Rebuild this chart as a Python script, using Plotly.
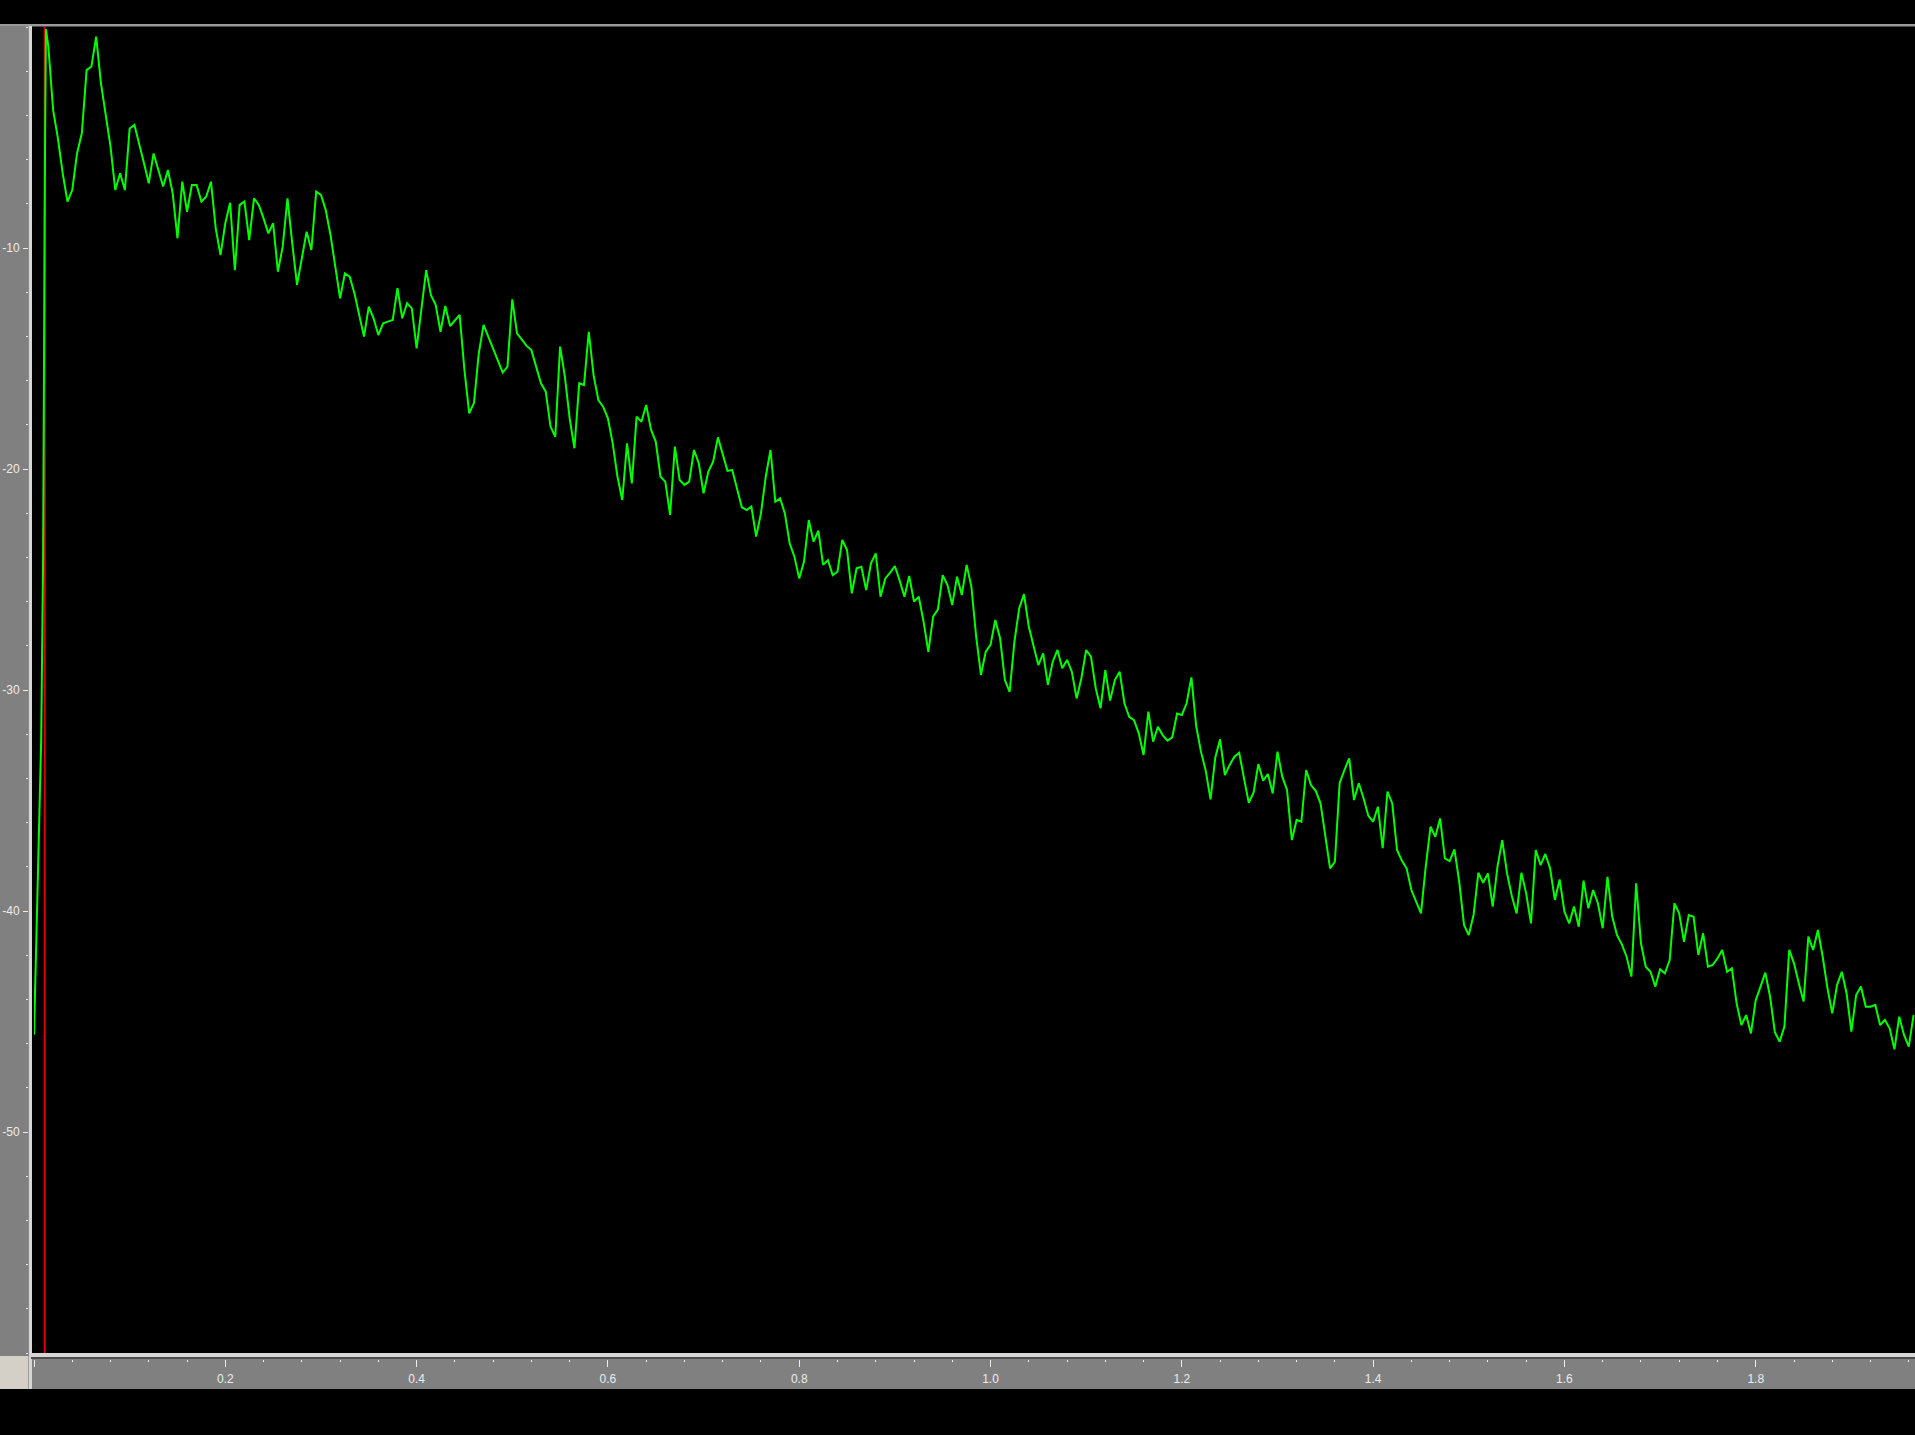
import plotly.graph_objects as go

# ---------------------------------------------------------------
# Spectrum trace: level (dB) against frequency
# ---------------------------------------------------------------
# steep onset at the very start of the sweep
rise_freq = [0.0, 0.0025, 0.005, 0.0075, 0.0095, 0.0105, 0.0115, 0.0125]
rise_db = [-45.6, -40.9, -36.8, -32.3, -24.1, -12.4, -5.6, -0.1]

# remaining bins are evenly spaced
bin_start = 0.015
bin_step = 0.005

band1_db = [
    -0.89, -3.76, -5.04, -6.62, -7.90, -7.38, -5.72, -4.81, -1.95, -1.79,
    -0.44, -2.55, -3.91, -5.41, -7.38, -6.62, -7.38, -4.59, -4.43, -5.26,
    -6.17, -7.07, -5.72, -6.47, -7.22, -6.47, -7.53, -9.56, -7.00, -8.36,
    -7.15, -7.15, -7.90, -7.68, -7.00, -9.11, -10.32, -8.88, -7.95, -11.00,
    -8.05, -7.90, -9.64, -7.75, -8.05, -8.66, -9.34, -8.88, -11.07, -9.94,
    -7.75, -9.79, -11.67, -10.47, -9.26, -10.09, -7.45, -7.60, -8.28, -9.41,
    -10.84, -12.28, -11.15, -11.30, -12.05, -13.03, -14.01, -12.65, -13.18, -13.94,
    -13.41, -13.33, -13.26, -11.82, -13.18, -12.50, -12.73, -14.54,
]
band2_db = [
    -12.81, -11.00, -12.13, -12.58, -13.79, -12.62, -13.53, -13.26, -13.03, -15.52,
    -17.48, -17.00, -14.77, -13.48, -14.01, -14.62, -15.07, -15.64, -15.37, -12.32,
    -13.86, -14.13, -14.43, -14.62, -15.37, -16.12, -16.50, -18.08, -18.54, -14.46,
    -15.82, -17.71, -19.06, -16.12, -16.20, -13.79, -15.75, -16.88, -17.18, -17.71,
    -18.84, -20.35, -21.40, -18.84, -20.65, -17.63, -17.86, -17.10, -18.21, -18.76,
    -20.35, -20.57, -22.08, -18.99, -20.50, -20.72, -20.57, -19.14, -19.74, -21.10,
    -20.12, -19.67, -18.57, -19.29, -20.08, -20.05, -20.95, -21.73, -21.86, -21.70,
    -23.06, -22.01, -20.35, -19.14, -21.48, -21.33, -22.01, -23.36, -23.97,
]
band3_db = [
    -24.95, -24.19, -22.31, -23.29, -22.79, -24.34, -24.12, -24.80, -24.65, -23.21,
    -23.67, -25.63, -24.49, -24.42, -25.48, -24.27, -23.82, -25.78, -24.95, -24.69,
    -24.39, -25.05, -25.78, -24.84, -26.00, -25.78, -26.91, -28.27, -26.68, -26.35,
    -24.80, -25.25, -26.15, -24.87, -25.70, -24.34, -25.32, -27.59, -29.32, -28.27,
    -27.96, -26.83, -27.66, -29.55, -30.08, -27.81, -26.30, -25.66, -27.13, -28.01,
    -28.87, -28.34, -29.77, -28.72, -28.19, -29.02, -28.64, -29.17, -30.38, -29.47,
    -28.19, -28.49, -29.92, -30.83, -29.10, -30.48, -29.55, -29.17, -30.60, -31.21,
    -31.36, -31.96, -32.94, -30.98, -32.34, -31.66, -32.04, -32.29, -32.14, -31.06,
]
band4_db = [
    -31.13, -30.60, -29.43, -31.63, -32.79, -33.65, -34.95, -33.05, -32.23, -33.85,
    -33.39, -33.02, -32.84, -34.00, -35.10, -34.65, -33.35, -34.10, -33.80, -34.68,
    -32.79, -33.92, -34.52, -36.79, -35.88, -35.96, -33.62, -34.30, -34.56, -35.13,
    -36.71, -38.07, -37.77, -34.22, -33.62, -33.09, -34.98, -34.22, -34.90, -35.69,
    -35.96, -35.28, -37.16, -34.60, -35.13, -37.24, -37.72, -38.07, -39.05, -39.58,
    -40.11, -37.99, -36.18, -36.64, -35.81, -37.62, -37.74, -37.21, -38.67, -40.63,
    -41.09, -40.18, -38.27, -38.72, -38.30, -39.80, -37.99, -36.79, -38.30, -39.32,
    -40.11, -38.27, -39.20, -40.56, -37.24, -37.92, -37.42, -38.07, -39.50,
]
band5_db = [
    -38.57, -40.03, -40.56, -39.80, -40.71, -38.63, -39.88, -39.05, -39.65, -40.78,
    -38.45, -40.26, -41.09, -41.51, -42.07, -42.97, -38.75, -41.46, -42.52, -42.75,
    -43.42, -42.64, -42.82, -42.22, -39.65, -40.11, -41.39, -40.18, -40.26, -41.99,
    -41.01, -42.52, -42.44, -42.14, -41.76, -42.75, -42.59, -44.18, -45.16, -44.71,
    -45.54, -44.03, -43.42, -42.79, -43.88, -45.49, -45.91, -45.23, -41.76, -42.37,
    -43.27, -44.10, -41.16, -41.76, -40.86, -42.07, -43.50, -44.63, -43.35, -42.75,
    -43.73, -45.46, -43.80, -43.42, -44.33, -44.33, -44.25, -45.16, -44.93, -45.31,
    -46.26, -44.78, -45.61, -46.14, -44.71,
]

# red cursor position
cursor_freq = 0.0112

# axes
x_range = [0.0, 1.9665]
y_range = [-60.0, 0.0]
x_ticks = [0.0, 0.2, 0.4, 0.6, 0.8, 1.0, 1.2, 1.4, 1.6, 1.8]
x_tick_text = ["", "0.2", "0.4", "0.6", "0.8", "1.0", "1.2", "1.4", "1.6", "1.8"]
y_ticks = [-50, -40, -30, -20, -10]
y_tick_text = ["-50", "-40", "-30", "-20", "-10"]

# ---------------------------------------------------------------
grid_db = band1_db + band2_db + band3_db + band4_db + band5_db
grid_freq = [round(bin_start + bin_step * i, 4) for i in range(len(grid_db))]
freq = rise_freq + grid_freq
level = rise_db + grid_db

W, H = 1915, 1435


def px(x):
    return x / W


def py(y):
    return 1 - y / H


GREY = "#808080"
LABEL = "#ececec"
font = dict(family="Liberation Sans, Arial, sans-serif", size=12, color=LABEL)

fig = go.Figure()

fig.add_trace(go.Scatter(
    x=[cursor_freq, cursor_freq], y=y_range, mode="lines",
    line=dict(color="#e00000", width=2), hoverinfo="skip", showlegend=False,
))
fig.add_trace(go.Scatter(
    x=freq, y=level, mode="lines",
    line=dict(color="#00ff00", width=2), showlegend=False,
))


def rect(x0, y0, x1, y1, color):
    return dict(type="rect", xref="paper", yref="paper", layer="below",
                x0=px(x0), x1=px(x1), y0=py(y1), y1=py(y0),
                fillcolor=color, line=dict(width=0))


shapes = [
    rect(0, 24, W, 26.5, "#9a9a9a"),          # top rule
    rect(0, 26, 28.5, 1356, GREY),             # left scale panel
    rect(28.5, 26, 32, 1389, "#d6d6d6"),       # panel edge
    rect(31, 1353, W, 1357, "#d6d6d6"),        # bottom edge
    rect(31, 1357, W, 1359, "#4a4a4a"),
    rect(32, 1359, W, 1389, GREY),             # bottom scale band
    rect(0, 1356, 28.5, 1389, "#d4d0c8"),      # corner
]

fig.update_layout(
    width=W, height=H,
    margin=dict(l=0, r=0, t=0, b=0),
    paper_bgcolor="#000000",
    plot_bgcolor="#000000",
    shapes=shapes,
    showlegend=False,
    xaxis=dict(
        domain=[px(34), 1.0], range=x_range, anchor="free", position=py(1359),
        side="bottom", showgrid=False, zeroline=False, showline=False,
        tickmode="array", tickvals=x_ticks, ticktext=x_tick_text,
        ticks="outside", ticklen=7, tickwidth=1, tickcolor=LABEL,
        tickfont=font, ticklabelstandoff=2,
        minor=dict(ticks="outside", ticklen=2, tickwidth=1, tickcolor=LABEL,
                   tick0=0, dtick=0.04, showgrid=False),
        fixedrange=True,
    ),
    yaxis=dict(
        domain=[py(1353), py(27)], range=y_range, anchor="free", position=px(28),
        side="left", showgrid=False, zeroline=False, showline=False,
        tickmode="array", tickvals=y_ticks, ticktext=y_tick_text,
        ticks="outside", ticklen=5, tickwidth=1, tickcolor=LABEL,
        tickfont=font, ticklabelstandoff=1,
        minor=dict(ticks="outside", ticklen=2, tickwidth=1, tickcolor=LABEL,
                   tick0=0, dtick=2, showgrid=False),
        fixedrange=True,
    ),
)

fig.write_html("out.html", config={"displayModeBar": False})
